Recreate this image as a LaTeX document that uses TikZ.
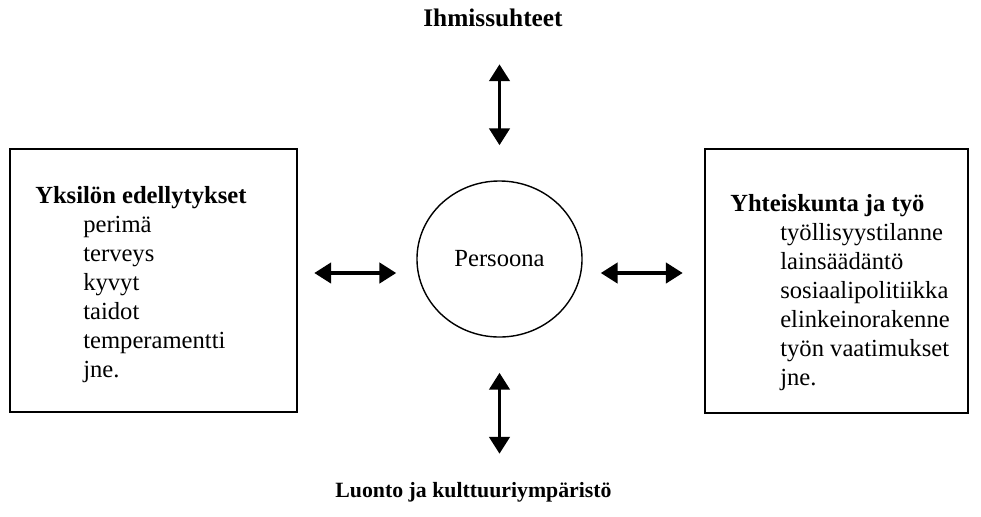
\documentclass[tikz,border=0pt]{standalone}
\usepackage{fontspec}
\setmainfont{Liberation Serif}
\usepackage{tikz}
\usetikzlibrary{shapes.geometric, positioning, arrows.meta}

\begin{document}
\begin{tikzpicture}[x=0.025cm, y=-0.025cm]
\tikzstyle{factor_box}=[rectangle, draw, line width=1.4pt, minimum height=6.575cm]
\tikzstyle{factor_list}=[anchor=north west, inner sep=0, align=left, font=\fontsize{17.5}{20.6}\selectfont]
\tikzstyle{twoway}=[{Triangle[length=0.42cm, width=0.5cm]}-{Triangle[length=0.42cm, width=0.5cm]}, line width=2.8pt]

\useasboundingbox (0,0) rectangle (981,516);

\node[ellipse, draw, line width=1pt, minimum width=4.125cm, minimum height=3.9cm, font=\fontsize{17.5}{20}\selectfont] (persoona) at (499.5,259) {Persoona};

\node[factor_box, minimum width=7.175cm] (yksilo) at (153.5,280.5) {};
\node[factor_box, minimum width=6.575cm] (yhteis) at (836.5,281) {};

\node[factor_list] (yksilo_text) at (35,186) {\textbf{Yksilön edellytykset}\\
  \hspace*{1.2cm}perimä\\
  \hspace*{1.2cm}terveys\\
  \hspace*{1.2cm}kyvyt\\
  \hspace*{1.2cm}taidot\\
  \hspace*{1.2cm}temperamentti\\
  \hspace*{1.2cm}jne.};
\node[factor_list] (yhteis_text) at (730,194) {\textbf{Yhteiskunta ja työ}\\
  \hspace*{1.25cm}työllisyystilanne\\
  \hspace*{1.25cm}lainsäädäntö\\
  \hspace*{1.25cm}sosiaalipolitiikka\\
  \hspace*{1.25cm}elinkeinorakenne\\
  \hspace*{1.25cm}työn vaatimukset\\
  \hspace*{1.25cm}jne.};

\node[font=\fontsize{18}{20}\selectfont\bfseries] (ihmis) at (493,18) {Ihmissuhteet};
\node[font=\fontsize{15.5}{18}\selectfont\bfseries] (luonto) at (473.5,492) {Luonto ja kulttuuriympäristö};

% arrows round the person
\draw[twoway] ([yshift=0.875cm]persoona.north) -- ([yshift=2.9cm]persoona.north);
\draw[twoway] ([yshift=-0.875cm]persoona.south) -- ([yshift=-2.9cm]persoona.south);
\draw[twoway] ([xshift=-2.55cm, yshift=-0.35cm]persoona.west) -- ([xshift=-0.5cm, yshift=-0.35cm]persoona.west);
\draw[twoway] ([xshift=0.45cm, yshift=-0.35cm]persoona.east) -- ([xshift=2.5cm, yshift=-0.35cm]persoona.east);

\end{tikzpicture}
\end{document}
